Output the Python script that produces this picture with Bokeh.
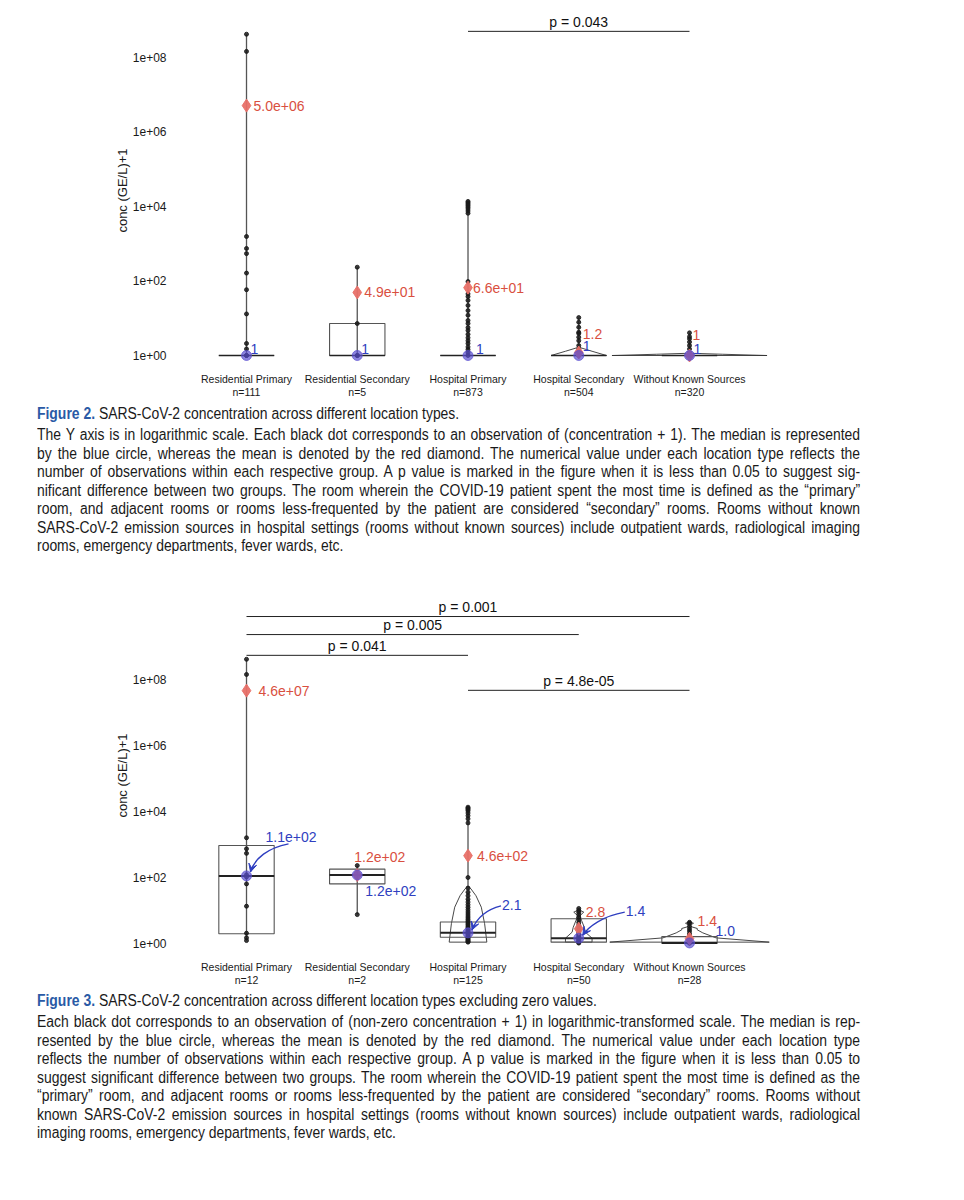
from bokeh.plotting import figure
from bokeh.models import Range1d, FixedTicker, CustomJSTickFormatter, Arrow, VeeHead, Div
from bokeh.layouts import column
from bokeh.embed import file_html
from bokeh.resources import INLINE
from bokeh.core.properties import value

# ---------------- data ----------------
categories = ["Residential Primary", "Residential Secondary", "Hospital Primary",
              "Hospital Secondary", "Without Known Sources"]

# Figure 2 (all values, concentration + 1)
n_all = [111, 5, 873, 504, 320]
mean_all = [5.0e6, 49, 66, 1.2, 1.0]
mean_lbl_all = ["5.0e+06", "4.9e+01", "6.6e+01", "1.2", "1"]
median_all = [1, 1, 1, 1, 1]
median_lbl_all = ["1", "1", "1", "1", "1"]
q1_all = [1, 1, 1, 1, 1]
q3_all = [1, 7.2, 1, 1, 1]
obs_all_rp = [4.1e8, 1.42e8, 1550, 740, 540, 162, 58, 13, 2.1, 1.5, 1, 1, 1]
obs_all_rs = [233, 7.2, 1, 1, 1]
obs_all_hp = [1.35e4, 1.25e4, 1.15e4, 1.05e4, 9500, 8500, 7500, 6500, 96, 45, 38, 30, 22, 16,
              12, 8.7, 7.2, 5.6, 4.7, 3.7, 3.0, 2.5, 2.1, 1.7, 1.45, 1.2, 1]
obs_all_hs = [10.4, 7.8, 5.7, 4.2, 3.9, 3.1, 2.5, 1.85, 1.5, 1.2, 1]
obs_all_wks = [4.05, 3.2, 2.8, 2.3, 1.85, 1.5, 1.2, 1]
# violin density outlines (level, half width in category units)
violin_all_levels = {3: [1.0, 1.3, 1.67], 4: [1.0, 1.08, 1.15]}
violin_all_widths = {3: [0.25, 0.12, 0.0], 4: [0.70, 0.30, 0.0]}
pvals_all = [(2, 4, "p = 0.043")]

# Figure 3 (non-zero values, concentration + 1)
n_nz = [12, 2, 125, 50, 28]
mean_nz = [4.6e7, 119, 460, 2.8, 1.4]
mean_lbl_nz = ["4.6e+07", "1.2e+02", "4.6e+02", "2.8", "1.4"]
median_nz = [112, 119, 2.1, 1.45, 1.04]
median_lbl_nz = ["1.1e+02", "1.2e+02", "2.1", "1.4", "1.0"]
q1_nz = [1.97, 64, 1.55, 1.1, 1.02]
q3_nz = [930, 180, 4.5, 5.6, 1.62]
obs_nz_rp = [4.1e8, 1.42e8, 1600, 740, 540, 121, 104, 64, 13.5, 2.05, 1.49, 1.23]
obs_nz_rs = [230, 7.5]
obs_nz_hp = [1.35e4, 1.25e4, 1.15e4, 1.05e4, 9000, 7500, 6000, 4500, 100, 48, 36, 28, 22, 18,
             15, 12.5, 10.5, 9, 7.8, 6.8, 6, 5.3, 4.7, 4.2, 3.8, 3.4, 3.1, 2.8, 2.5, 2.3, 2.1,
             1.9, 1.75, 1.6, 1.5, 1.4, 1.3, 1.22, 1.15, 1.1]
obs_nz_hs = [11.5, 10, 8.8, 7.5, 6.2, 5.2, 4.3, 3.6, 3.0, 2.6, 2.2, 1.9, 1.7, 1.55, 1.45,
             1.35, 1.25, 1.15, 1.08, 1.03]
obs_nz_wks = [4.4, 4.1, 3.3, 2.8, 2.4, 2.0, 1.75, 1.5, 1.3, 1.15, 1.05, 1.02]
violin_nz_levels = {2: [1.1, 4, 12.6, 28, 45, 53],
                    3: [1.1, 1.45, 2.2, 3.1, 5, 7, 8.9, 10.5],
                    4: [1.1, 1.48, 2.1, 2.6, 2.85, 3.2, 3.6, 4.1, 4.6]}
violin_nz_widths = {2: [0.17, 0.15, 0.12, 0.072, 0.027, 0.006],
                    3: [0.12, 0.12, 0.06, 0.05, 0.025, 0.01, 0.045, 0.0],
                    4: [0.72, 0.24, 0.12, 0.07, 0.07, 0.02, 0.005, 0.036, 0.0]}
pvals_nz = [(0, 4, "p = 0.001"), (0, 3, "p = 0.005"), (0, 2, "p = 0.041"), (2, 4, "p = 4.8e-05")]

# ---------------- style / layout ----------------
FONT = "Liberation Sans"
BLUE_TXT = "#2f3fc0"
RED_TXT = "#d9503f"
DIAMOND = "#e87068"
MEDIAN_DOT = "#5a4fd0"

# label offsets in screen px (dx, dy; +dy is down)
top_mean_off = [(7, 0), (7, 0), (5, 0), (4, -19), (3, -21)]
top_med_off = [(4, -7), (4, -7), (8, -7), (4, -10), (4, -7)]
top_pbar_y = [4.9e8]
bot_mean_off = [(12, 0), (-3, -18), (9, 0), (7, -17), (8, -18)]
bot_med_off = [(19, -39), (8, 16), (34, -28), (47, -27), (26, -12)]
# arrows from label to median (start, ctrl1, ctrl2, end) in px offsets from median point
bot_arrows = {0: [(42, -32), (22, -28), (8, -18), (4, -4)],
              2: [(33, -27), (17, -23), (8, -13), (4, -3)],
              3: [(46, -26), (24, -22), (10, -12), (4, -3)]}
bot_pbar_y = [8.1e9, 2.3e9, 5.4e8, 4.7e7]

BL, BR = 180, 176
FRAME_W = 600
CAT_PX = 110.75
X0 = -0.596
X1 = X0 + FRAME_W / CAT_PX


def make_panel(frame_h, btop, bbot, ylog0, ylog1, obs, n, means, mean_lbls, medians, med_lbls,
               q1, q3, vlev, vwid, pvals, pbar_y, mean_off, med_off, arrows, thick_median):
    p = figure(frame_width=FRAME_W, frame_height=frame_h, output_backend="svg",
               toolbar_location=None, y_axis_type="log", x_range=Range1d(X0, X1),
               y_range=Range1d(10 ** ylog0, 10 ** ylog1),
               min_border_left=BL, min_border_right=BR, min_border_top=btop, min_border_bottom=bbot)
    p.outline_line_color = None
    p.grid.grid_line_color = None
    ppd = frame_h / (ylog1 - ylog0)
    ppx = CAT_PX

    def off(i, yv, dx, dy):
        return i + dx / ppx, yv * 10 ** (-dy / ppd)

    xs_idx = list(range(len(categories)))
    # whiskers
    lo = [min(o) for o in obs]
    hi = [max(o) for o in obs]
    p.segment(x0=xs_idx, y0=lo, x1=xs_idx, y1=hi, line_color="#555555", line_width=1.3)
    # violins
    vx, vy = [], []
    for i, lev in vlev.items():
        w = vwid[i]
        vx.append([i - a for a in w] + [i + a for a in reversed(w)])
        vy.append(list(lev) + list(reversed(lev)))
    if vx:
        p.patches(xs=vx, ys=vy, fill_alpha=0, line_color="#333333", line_width=0.9)
    # boxes
    bw = 0.25
    p.quad(left=[i - bw for i in xs_idx], right=[i + bw for i in xs_idx], bottom=q1, top=q3,
           fill_alpha=0, line_color="#555555", line_width=1.1)
    p.segment(x0=[i - bw for i in xs_idx], x1=[i + bw for i in xs_idx], y0=medians, y1=medians,
              line_color="#222222", line_width=2 if thick_median else 1.5)
    # observations
    px, py = [], []
    for i, o in enumerate(obs):
        px += [i] * len(o)
        py += o
    p.scatter(px, py, size=4, color="#1a1a1a", alpha=0.85)
    # means then medians
    p.scatter(xs_idx, means, marker="diamond", size=13, color=DIAMOND, alpha=0.95)
    p.scatter(xs_idx, medians, size=10, color=MEDIAN_DOT, alpha=0.7)
    # labels
    p.text(x=xs_idx, y=means, text=mean_lbls, x_offset=[o[0] for o in mean_off],
           y_offset=[o[1] for o in mean_off], text_color=RED_TXT, text_font=value(FONT),
           text_font_size="14px", text_baseline="middle", text_align="left")
    p.text(x=xs_idx, y=medians, text=med_lbls, x_offset=[o[0] for o in med_off],
           y_offset=[o[1] for o in med_off], text_color=BLUE_TXT, text_font=value(FONT),
           text_font_size="14px", text_baseline="middle", text_align="left")
    # arrows
    for i, pts in arrows.items():
        (sx, sy), (c1x, c1y), (c2x, c2y), (ex, ey) = [off(i, medians[i], a, b) for a, b in pts]
        p.bezier(x0=[sx], y0=[sy], x1=[ex], y1=[ey], cx0=[c1x], cy0=[c1y], cx1=[c2x], cy1=[c2y],
                 line_color=BLUE_TXT, line_width=1.4)
        p.add_layout(Arrow(x_start=c2x, y_start=c2y, x_end=ex, y_end=ey, line_alpha=0,
                           end=VeeHead(size=8, line_color=BLUE_TXT, fill_color=BLUE_TXT,
                                       line_width=1)))
    # p-value bars
    for (a, b, lab), yb in zip(pvals, pbar_y):
        p.segment(x0=[a], x1=[b], y0=[yb], y1=[yb], line_color="#222222", line_width=1)
        p.text(x=[(a + b) / 2], y=[yb], text=[lab], y_offset=-1.5, text_align="center",
               text_baseline="bottom", text_font=value(FONT), text_font_size="14px",
               text_color="#111111")
    # axes
    p.yaxis.ticker = FixedTicker(ticks=[1, 1e2, 1e4, 1e6, 1e8])
    p.yaxis.formatter = CustomJSTickFormatter(
        code="const e = Math.round(Math.log10(tick)); return '1e+' + (e < 10 ? '0' : '') + e;")
    p.yaxis.axis_label = "conc (GE/L)+1"
    p.yaxis.axis_label_text_font = FONT
    p.yaxis.axis_label_text_font_style = "normal"
    p.yaxis.axis_label_text_font_size = "13px"
    p.yaxis.axis_label_text_color = "#1a1a1a"
    p.yaxis.axis_label_standoff = 0
    p.yaxis.major_label_text_font = FONT
    p.yaxis.major_label_text_font_size = "12px"
    p.yaxis.major_label_standoff = 14
    p.xaxis.ticker = FixedTicker(ticks=xs_idx)
    p.xaxis.major_label_overrides = {i: f"{c}\nn={k}" for i, (c, k) in enumerate(zip(categories, n))}
    p.xaxis.major_label_text_font = FONT
    p.xaxis.major_label_text_font_size = "10.5px"
    p.xaxis.major_label_text_line_height = 1.1
    p.xaxis.major_label_standoff = 7
    for ax in (p.xaxis, p.yaxis):
        ax.axis_line_color = None
        ax.major_tick_line_color = None
        ax.minor_tick_line_color = None
        ax.major_tick_out = 0
        ax.major_tick_in = 0
        ax.minor_tick_out = 0
        ax.major_label_text_color = "#1a1a1a"
    return p


p_top = make_panel(350, 15, 38, -0.268, 9.115,
                   [obs_all_rp, obs_all_rs, obs_all_hp, obs_all_hs, obs_all_wks], n_all,
                   mean_all, mean_lbl_all, median_all, median_lbl_all, q1_all, q3_all,
                   violin_all_levels, violin_all_widths, pvals_all, top_pbar_y,
                   top_mean_off, top_med_off, {}, False)
p_bot = make_panel(356, 22, 36, -0.303, 10.485,
                   [obs_nz_rp, obs_nz_rs, obs_nz_hp, obs_nz_hs, obs_nz_wks], n_nz,
                   mean_nz, mean_lbl_nz, median_nz, median_lbl_nz, q1_nz, q3_nz,
                   violin_nz_levels, violin_nz_widths, pvals_nz, bot_pbar_y,
                   bot_mean_off, bot_med_off, bot_arrows, True)

cap2_title = "SARS-CoV-2 concentration across different location types."
cap2_lines = [
    "The Y axis is in logarithmic scale. Each black dot corresponds to an observation of (concentration + 1). The median is represented",
    "by the blue circle, whereas the mean is denoted by the red diamond. The numerical value under each location type reflects the",
    "number of observations within each respective group. A p value is marked in the figure when it is less than 0.05 to suggest sig-",
    "nificant difference between two groups. The room wherein the COVID-19 patient spent the most time is defined as the \u201cprimary\u201d",
    "room, and adjacent rooms or rooms less-frequented by the patient are considered \u201csecondary\u201d rooms. Rooms without known",
    "SARS-CoV-2 emission sources in hospital settings (rooms without known sources) include outpatient wards, radiological imaging",
    "rooms, emergency departments, fever wards, etc.",
]
cap3_title = "SARS-CoV-2 concentration across different location types excluding zero values."
cap3_lines = [
    "Each black dot corresponds to an observation of (non-zero concentration + 1) in logarithmic-transformed scale. The median is rep-",
    "resented by the blue circle, whereas the mean is denoted by the red diamond. The numerical value under each location type",
    "reflects the number of observations within each respective group. A p value is marked in the figure when it is less than 0.05 to",
    "suggest significant difference between two groups. The room wherein the COVID-19 patient spent the most time is defined as the",
    "\u201cprimary\u201d room, and adjacent rooms or rooms less-frequented by the patient are considered \u201csecondary\u201d rooms. Rooms without",
    "known SARS-CoV-2 emission sources in hospital settings (rooms without known sources) include outpatient wards, radiological",
    "imaging rooms, emergency departments, fever wards, etc.",
]

SCALE = 0.87
TEXT_W = 823


def caption(label, title, lines, height, pad_top):
    inner_w = round(TEXT_W / SCALE)
    base = ("font-family:'Liberation Sans',Arial,sans-serif;font-size:16px;"
            "line-height:18.5px;color:#1a1a1a;")
    html = (f"<div style='width:{TEXT_W + 45}px;height:{height}px;overflow:hidden'>"
            f"<div style=\"{base}margin-left:37px;padding-top:{pad_top}px;width:{inner_w}px;"
            f"transform:scaleX({SCALE});transform-origin:0 0;\">")
    html += (f"<div style='margin-bottom:2.5px;white-space:nowrap'>"
             f"<span style='color:#2a5aa6;font-weight:bold'>{label}</span>&nbsp;{title}</div>")
    for k, ln in enumerate(lines):
        last = k == len(lines) - 1
        al = "left" if last else "justify"
        html += f"<div style='text-align:{al};text-align-last:{al};white-space:normal'>{ln}</div>"
    html += "</div></div>"
    return Div(text=html, width=TEXT_W + 45, height=height, margin=(0, 0, 0, 0))


d1 = caption("Figure 2.", cap2_title, cap2_lines, 172, 2)
d2 = caption("Figure 3.", cap3_title, cap3_lines, 170, 3)

layout = column(p_top, d1, p_bot, d2, spacing=0)
open("out.html", "w").write(file_html(layout, INLINE))
